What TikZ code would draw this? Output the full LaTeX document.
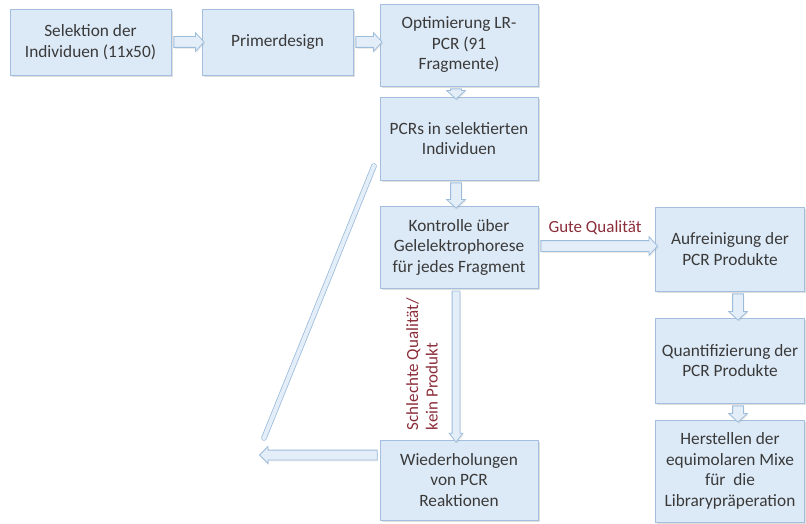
\documentclass[tikz,border=0pt]{standalone}
\usepackage{fontspec}
\setmainfont{Carlito}
\usetikzlibrary{shapes.arrows,shadows,calc}
\definecolor{boxfill}{HTML}{DCE9F6}
\definecolor{boxline}{HTML}{A3BFDD}
\definecolor{arrfill}{HTML}{E4EEF9}
\definecolor{arrline}{HTML}{9DBCDC}
\definecolor{txt}{HTML}{3A3A3A}
\definecolor{lbl}{HTML}{8B2E3A}
\newcommand\blockarr[3][]{%
  \path let \p1=($(#3)-(#2)$), \n1={veclen(\x1,\y1)} in
    (#2) -- (#3) node[midway, barrow, minimum height={\n1}, #1] {};}
\begin{document}
\begin{tikzpicture}[x=1pt,y=-1pt,
  box/.style={draw=boxline, fill=boxfill, line width=0.8pt, align=center,
    text=txt, font=\fontsize{17.3}{20.5}\selectfont, inner sep=2pt,
    drop shadow={shadow xshift=1.5pt, shadow yshift=-2pt, opacity=0.25}},
  barrow/.style={single arrow, draw=arrline, fill=arrfill, line width=0.8pt,
    inner xsep=0pt, inner ysep=5pt, sloped, allow upside down, anchor=center,
    single arrow head extend=4pt, single arrow tip angle=95,
    drop shadow={shadow xshift=1pt, shadow yshift=-1.5pt, opacity=0.15}},
  thinarrow/.style={inner ysep=3.5pt, single arrow head extend=3pt,
    single arrow tip angle=75},
  midarrow/.style={inner ysep=4.5pt, single arrow head extend=3.5pt,
    single arrow tip angle=90},
  lab/.style={text=lbl, font=\fontsize{17}{19.5}\selectfont, inner sep=0pt}
]
\useasboundingbox (0,0) rectangle (806,524);

\node[box, minimum width=161pt, minimum height=66pt] (sel) at (90.5,42)
  {Selektion der\\Individuen (11x50)};
\node[box, minimum width=151pt, minimum height=66pt] (primer) at (277.5,42)
  {Primerdesign};
\node[box, minimum width=158pt, minimum height=82pt] (opt) at (459,45)
  {Optimierung LR-\\PCR (91\\Fragmente)};
\node[box, minimum width=158pt, minimum height=83pt] (pcrs) at (459,138.5)
  {PCRs in selektierten\\Individuen};
\node[box, minimum width=158pt, minimum height=82pt] (kon) at (459,247)
  {Kontrolle über\\Gelelektrophorese\\für jedes Fragment};
\node[box, minimum width=158pt, minimum height=80pt] (wied) at (459,480)
  {Wiederholungen\\von PCR\\Reaktionen};
\node[box, minimum width=149pt, minimum height=84pt] (aufr) at (730,249)
  {Aufreinigung der\\PCR Produkte};
\node[box, minimum width=149pt, minimum height=85pt] (quant) at (730,360.5)
  {Quantifizierung der\\PCR Produkte};
\node[box, minimum width=149pt, minimum height=102pt] (herst) at (730,471)
  {Herstellen der\\equimolaren Mixe\\für~ die\\Librarypräperation};

\node[lab] (gute) at (595,228) {Gute Qualität};
\node[lab, rotate=90, align=left] (schl) at (422,364)
  {Schlechte Qualität/\\kein Produkt};

\coordinate (retl) at (262,455);
\coordinate (dgb) at (264,438);
\coordinate (dgt) at (374,166);

\blockarr{sel.east}{primer.west}
\blockarr{primer.east}{primer.east -| opt.west}
\blockarr{$(opt.south)+(-3,0)$}{$(pcrs.north)+(-3,0)$}
\blockarr{$(pcrs.south)+(-3,0)$}{$(kon.north)+(-3,0)$}
\blockarr{$(kon.east)+(0,-1)$}{$(kon.east -| aufr.west)+(0,-1)$}
\blockarr[thinarrow]{$(kon.south)+(-3,0)$}{$(wied.north)+(-3,0)$}
\blockarr{$(aufr.south)+(8,0)$}{$(quant.north)+(8,0)$}
\blockarr{$(quant.south)+(8,0)$}{$(herst.north)+(8,0)$}
\blockarr[midarrow]{wied.west |- retl}{retl}
\draw[arrline, line width=0.8pt, double=arrfill, double distance=4pt,
  line cap=round] (dgb) -- (dgt);
\end{tikzpicture}
\end{document}
